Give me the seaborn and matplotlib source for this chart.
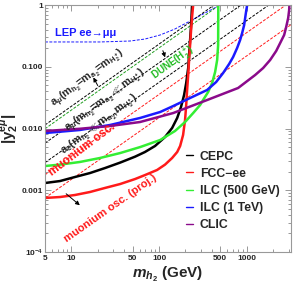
import numpy as np
import pandas as pd
import seaborn as sns
import matplotlib.pyplot as plt
from matplotlib.ticker import NullFormatter

# collider reach curves (m_h2 in GeV, |y2^emu|)
cepc_m = [5, 7.42, 11.0, 16.3, 24.2, 35.9, 53.3, 69, 90, 117, 141, 161, 178, 193, 204, 215, 220, 226, 232, 238]
cepc_y = [0.00131, 0.00141, 0.00164, 0.0019, 0.00229, 0.0028, 0.0035, 0.00416, 0.00521, 0.00728,
          0.0102, 0.0148, 0.0223, 0.0349, 0.0545, 0.0954, 0.155, 0.271, 0.474, 1.0]
fcc_m = [5, 7.42, 11.0, 16.3, 24.2, 35.9, 53.3, 69, 95, 117, 141, 161, 174, 188, 198, 204, 209, 215,
         220, 226, 232, 238, 245]
fcc_y = [0.00075, 0.000777, 0.000838, 0.000937, 0.00109, 0.00126, 0.00152, 0.00176, 0.00213, 0.0026,
         0.00333, 0.00416, 0.00521, 0.00785, 0.01373, 0.024, 0.042, 0.0735, 0.1286, 0.225, 0.394,
         0.639, 1.0]
ilc500_m = [5, 7.42, 12.5, 21.2, 35.9, 60.7, 103, 152, 198, 245, 294, 318, 363, 403, 436, 460, 472, 474]
ilc500_y = [0.00247, 0.0026, 0.00287, 0.00333, 0.0040, 0.0050, 0.00651, 0.00911, 0.01274, 0.0178,
            0.024, 0.0289, 0.039, 0.0545, 0.0822, 0.1286, 0.225, 1.0]
ilc1t_m = [5, 12.5, 27.6, 60.7, 103, 145, 226, 353, 448, 538, 630, 700, 777, 841, 887, 935, 960, 986, 1012]
ilc1t_y = [0.00845, 0.00946, 0.0114, 0.0148, 0.0185, 0.0231, 0.0312, 0.042, 0.0566, 0.0792, 0.1108,
           0.144, 0.201, 0.271, 0.352, 0.474, 0.616, 0.80, 1.0]
clic_m = [5, 12.5, 27.6, 60.7, 145, 353, 798, 1248, 1540, 1850, 2168, 2407, 2674, 2819, 2972, 3050, 3070]
clic_y = [0.00911, 0.0099, 0.01098, 0.01274, 0.0178, 0.0289, 0.0453, 0.0735, 0.0954, 0.1286, 0.18,
          0.242, 0.327, 0.44, 0.616, 0.83, 1.0]

# LEP ee->mumu (dashed)
lep_m = [5, 21.2, 46.7, 69, 103, 152, 226, 335, 497]
lep_y = [0.252, 0.252, 0.261, 0.281, 0.327, 0.409, 0.551, 0.742, 1.0]

# straight bounds, two end points each
amu_eq_m, amu_eq_y = [5, 425], [0.0114, 1.0]
dune_m, dune_y = [5, 490], [0.0099, 1.0]
amu_ll_m, amu_ll_y = [5, 862], [0.0058, 1.0]
ae_m, ae_y = [5, 1786], [0.0028, 1.0]
mu_osc_m, mu_osc_y = [5, 2800], [0.00178, 1.0]
mu_proj_m, mu_proj_y = [5, 3200], [0.00075, 0.48]

names = ["CEPC", "FCC\u2212ee", "ILC (500 GeV)", "ILC (1 TeV)", "CLIC"]
colors = ["black", "#ff1a1a", "#33ee33", "#1a1aff", "#8b0a8b"]

frames = []
for n, m, y in zip(names, [cepc_m, fcc_m, ilc500_m, ilc1t_m, clic_m],
                   [cepc_y, fcc_y, ilc500_y, ilc1t_y, clic_y]):
    frames.append(pd.DataFrame({"m": m, "y": y, "collider": n}))
df = pd.concat(frames, ignore_index=True)

sns.set_theme(style="ticks")
plt.rcParams['font.family'] = ['Liberation Sans', 'DejaVu Sans']
plt.rcParams['font.weight'] = 'bold'
plt.rcParams['mathtext.fontset'] = 'custom'
plt.rcParams['mathtext.rm'] = 'Liberation Sans:bold'
plt.rcParams['mathtext.bf'] = 'Liberation Sans:bold'
plt.rcParams['mathtext.it'] = 'Liberation Sans:bold:italic'

fig = plt.figure(figsize=(2.94, 2.88), dpi=100)
ax = fig.add_axes([45/294, 36/288, 246/294, 247/288])

# thin dashed bounds
dash = dict(lw=0.7, ls=(0, (3, 1.5)))
ax.plot(lep_m, lep_y, color="#1a1aff", **dash)
ax.plot(amu_eq_m, amu_eq_y, color="black", **dash)
ax.plot(dune_m, dune_y, color="#1f9e1f", **dash)
ax.plot(amu_ll_m, amu_ll_y, color="black", **dash)
ax.plot(ae_m, ae_y, color="black", **dash)
ax.plot(mu_osc_m, mu_osc_y, color="#ff1a1a", **dash)
ax.plot(mu_proj_m, mu_proj_y, color="#ff1a1a", **dash)

sns.lineplot(data=df, x="m", y="y", hue="collider", hue_order=names,
             palette=colors, estimator=None, lw=1.8, ax=ax)

ax.set_xscale("log")
ax.set_yscale("log")
ax.set_xlim(5, 3200)
ax.set_ylim(1e-4, 1)
ax.set_xticks([5, 10, 50, 100, 500, 1000])
ax.set_xticklabels(["5", "10", "50", "100", "500", "1000"])
ax.xaxis.set_minor_formatter(NullFormatter())
ax.set_yticks([1e-4, 1e-3, 1e-2, 1e-1, 1])
ax.set_yticklabels([r"$10^{-4}$", "0.001", "0.010", "0.100", "1"])
ax.yaxis.set_minor_formatter(NullFormatter())
ax.tick_params(which="both", direction="in", top=True, right=True,
               labelsize=6, color="#888888", width=0.6, pad=2)
ax.tick_params(axis="y", pad=1.5)
ax.tick_params(which="major", length=4)
ax.tick_params(which="minor", length=2)
for s in ax.spines.values():
    s.set_color("#999999")
    s.set_linewidth(0.8)

ax.set_xlabel(r"$m_{h_2}$ (GeV)", fontsize=11, fontweight="bold", labelpad=2)
ax.set_ylabel(r"$|\mathrm{y}_2^{\mathrm{e}\mu}|$", fontsize=11)
ax.yaxis.label.set_verticalalignment("center")
ax.yaxis.set_label_coords(-0.145, 0.5)

leg = ax.legend(loc="upper left", bbox_to_anchor=(0.53, 0.455), frameon=False,
                handlelength=0.55, handletextpad=0.55, labelspacing=0.42,
                prop={"weight": "bold", "size": 8.8})
for h in leg.get_lines():
    h.set_linewidth(1.0)

# labels on the plot
ax.text(6.5, 0.35, "LEP ee\u2192\u03bc\u03bc", color="#1a1aff", fontsize=8,
        fontweight="bold", va="center")
lab = dict(fontsize=7.8, ha="center", va="center", rotation_mode="anchor")
ax.text(15.5, 0.066, r"a$_\mu$(m$_{\mathrm{h}_2}$=m$_{\mathrm{a}_2}$=m$_{\mathrm{H}_2^+}$)",
        rotation=37, **lab)
ax.text(24, 0.029, r"a$_\mu$(m$_{\mathrm{h}_2}$=m$_{\mathrm{a}_2}$$\ll$m$_{\mathrm{H}_2^+}$)",
        rotation=37, **lab)
ax.text(21, 0.0114, r"a$_e$(m$_{\mathrm{h}_2}$$\ll$m$_{\mathrm{a}_2}$,m$_{\mathrm{H}_2^+}$)",
        rotation=37, **lab)
ax.text(144, 0.115, r"DUNE(H$_2^+$)", color="#22bb22", fontsize=7,
        rotation=36, ha="center", va="center", rotation_mode="anchor")
ax.text(13.2, 0.0045, "muonium osc.", color="#ff1a1a", fontsize=8.5,
        rotation=37, ha="center", va="center", rotation_mode="anchor")
ax.text(27.6, 0.00051, "muonium osc. (proj.)", color="#ff1a1a", fontsize=8,
        rotation=35, ha="center", va="center", rotation_mode="anchor")

arrow = dict(arrowstyle="-|>", color="black", lw=0.7, mutation_scale=6)
ax.annotate("", xy=(17.2, 0.0735), xytext=(20.7, 0.0452), arrowprops=arrow)
ax.annotate("", xy=(120, 0.1286), xytext=(108, 0.201), arrowprops=arrow)
ax.annotate("", xy=(13.2, 0.000535), xytext=(8.24, 0.000937), arrowprops=arrow)

fig.savefig("out.png", dpi=100)
